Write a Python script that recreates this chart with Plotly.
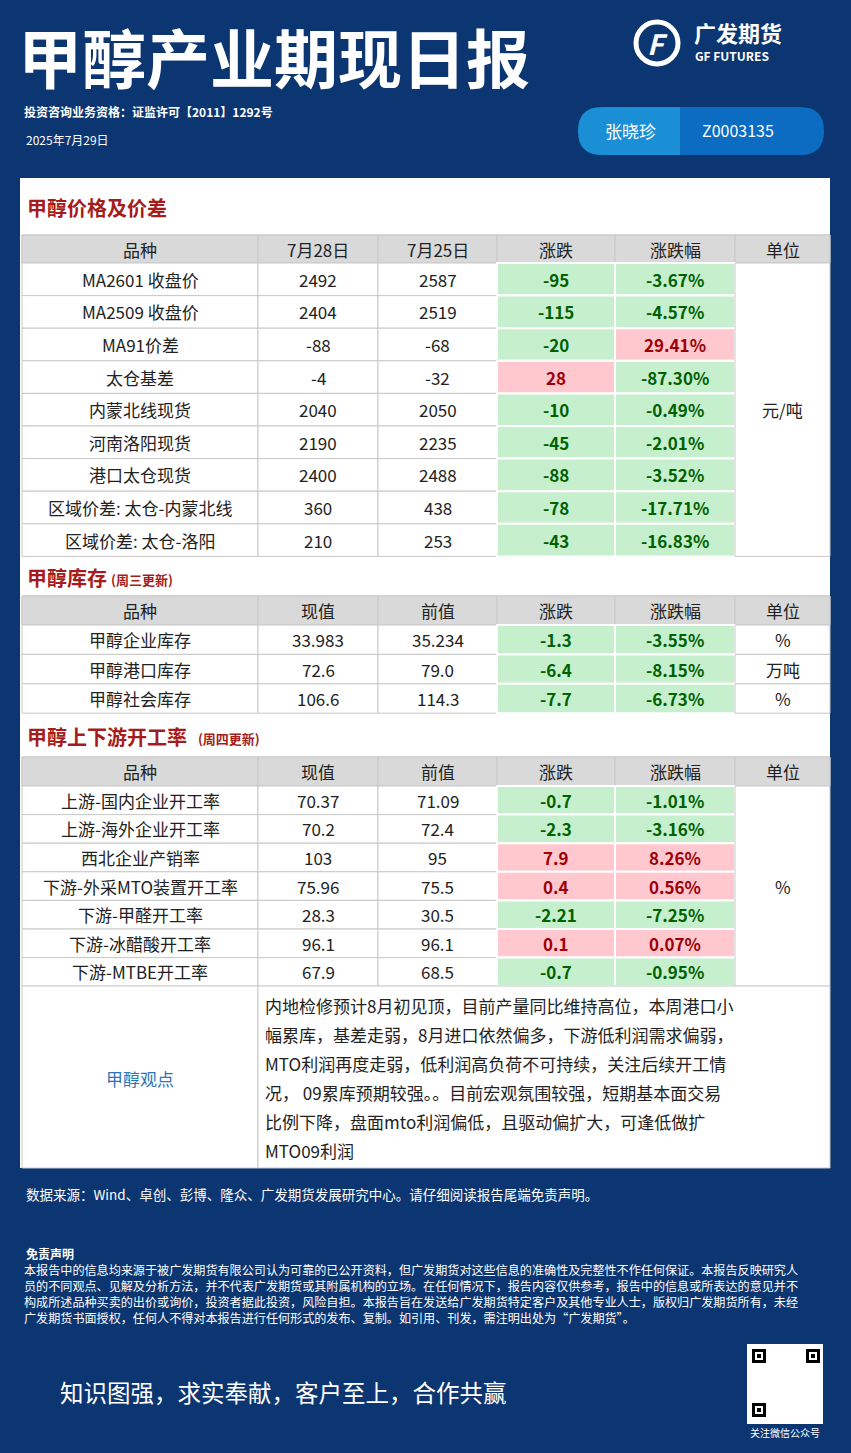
import plotly.graph_objects as go

W, H = 851, 1453
NAVY = "#0c3672"
FONT = "Noto Sans CJK SC"

title = "甲醇产业期现日报"
license_txt = "投资咨询业务资格：证监许可【2011】1292号"
report_date = "2025年7月29日"
analyst = "张晓珍"
analyst_id = "Z0003135"

# table 1: prices and spreads
t1_header = ["品种", "7月28日", "7月25日", "涨跌", "涨跌幅", "单位"]
t1_names = ["MA2601 收盘价", "MA2509 收盘价", "MA91价差", "太仓基差", "内蒙北线现货",
            "河南洛阳现货", "港口太仓现货", "区域价差: 太仓-内蒙北线", "区域价差: 太仓-洛阳"]
t1_cur = ["2492", "2404", "-88", "-4", "2040", "2190", "2400", "360", "210"]
t1_prev = ["2587", "2519", "-68", "-32", "2050", "2235", "2488", "438", "253"]
t1_chg = ["-95", "-115", "-20", "28", "-10", "-45", "-88", "-78", "-43"]
t1_pct = ["-3.67%", "-4.57%", "29.41%", "-87.30%", "-0.49%", "-2.01%", "-3.52%", "-17.71%", "-16.83%"]
t1_unit = "元/吨"

# table 2: inventories
t2_header = ["品种", "现值", "前值", "涨跌", "涨跌幅", "单位"]
t2_names = ["甲醇企业库存", "甲醇港口库存", "甲醇社会库存"]
t2_cur = ["33.983", "72.6", "106.6"]
t2_prev = ["35.234", "79.0", "114.3"]
t2_chg = ["-1.3", "-6.4", "-7.7"]
t2_pct = ["-3.55%", "-8.15%", "-6.73%"]
t2_unit = ["%", "万吨", "%"]

# table 3: operating rates
t3_names = ["上游-国内企业开工率", "上游-海外企业开工率", "西北企业产销率", "下游-外采MTO装置开工率",
            "下游-甲醛开工率", "下游-冰醋酸开工率", "下游-MTBE开工率"]
t3_cur = ["70.37", "70.2", "103", "75.96", "28.3", "96.1", "67.9"]
t3_prev = ["71.09", "72.4", "95", "75.5", "30.5", "96.1", "68.5"]
t3_chg = ["-0.7", "-2.3", "7.9", "0.4", "-2.21", "0.1", "-0.7"]
t3_pct = ["-1.01%", "-3.16%", "8.26%", "0.56%", "-7.25%", "0.07%", "-0.95%"]
t3_unit = "%"

view_label = "甲醇观点"
view_lines = [
    "内地检修预计8月初见顶，目前产量同比维持高位，本周港口小",
    "幅累库，基差走弱，8月进口依然偏多，下游低利润需求偏弱，",
    "MTO利润再度走弱，低利润高负荷不可持续，关注后续开工情",
    "况， 09累库预期较强。。目前宏观氛围较强，短期基本面交易",
    "比例下降，盘面mto利润偏低，且驱动偏扩大，可逢低做扩",
    "MTO09利润",
]
source_txt = "数据来源：Wind、卓创、彭博、隆众、广发期货发展研究中心。请仔细阅读报告尾端免责声明。"
disclaimer_lines = [
    "本报告中的信息均来源于被广发期货有限公司认为可靠的已公开资料，但广发期货对这些信息的准确性及完整性不作任何保证。本报告反映研究人",
    "员的不同观点、见解及分析方法，并不代表广发期货或其附属机构的立场。在任何情况下，报告内容仅供参考，报告中的信息或所表达的意见并不",
    "构成所述品种买卖的出价或询价，投资者据此投资，风险自担。本报告旨在发送给广发期货特定客户及其他专业人士，版权归广发期货所有，未经",
    "广发期货书面授权，任何人不得对本报告进行任何形式的发布、复制。如引用、刊发，需注明出处为\u201c广发期货\u201d。",
]
slogan = "知识图强，求实奉献，客户至上，合作共赢"

shapes, annots = [], []


def rect(x0, y0, x1, y1, fill, line=None, lw=1):
    shapes.append(dict(type="rect", x0=x0, y0=y0, x1=x1, y1=y1, xref="x", yref="y",
                       fillcolor=fill, line=dict(color=line or fill, width=lw if line else 0),
                       layer="below"))


def text(x, y, s, size, color, anchor="center", bold=False):
    annots.append(dict(x=x, y=y, xref="x", yref="y", text=f"<b>{s}</b>" if bold else s,
                       showarrow=False, xanchor=anchor, yanchor="middle",
                       font=dict(family=FONT, size=size, color=color)))


# background
rect(0, 0, W, H, NAVY)
text(16, 55, title, 64, "white", "left", True)
# logo
shapes.append(dict(type="circle", x0=636, y0=22, x1=678, y1=64, xref="x", yref="y",
                   line=dict(color="white", width=5)))
text(657, 43, "<i>F</i>", 28, "white", bold=True)
text(692, 32, "广发期货", 22, "white", "left", True)
text(693, 55, "GF FUTURES", 12, "white", "left", True)
text(22, 111, license_txt, 12, "white", "left", True)
text(24, 139, report_date, 12, "white", "left")
# analyst pill
shapes.append(dict(type="path", xref="x", yref="y", fillcolor="#1b8fd6", line=dict(width=0),
                   path="M 602 107 L 680 107 L 680 155 L 602 155 Q 578 155 578 131 Q 578 107 602 107 Z"))
shapes.append(dict(type="path", xref="x", yref="y", fillcolor="#0b6cc2", line=dict(width=0),
                   path="M 680 107 L 800 107 Q 824 107 824 131 Q 824 155 800 155 L 680 155 Z"))
text(630, 130, analyst, 17, "white")
text(738, 130, analyst_id, 16, "white")

# white panel
rect(20, 178, 830, 1168, "white")

cols = [22, 258, 378, 497, 615, 735, 830]
centers = [(cols[i] + cols[i + 1]) / 2 for i in range(6)]
GRID = "#c8c8c8"
HEAD = "#d9d9d9"
GREEN_F, GREEN_T = "#c6efce", "#006100"
RED_F, RED_T = "#ffc7ce", "#9c0006"


def section(y, label, note):
    text(25, y, label, 20, "#a51c1c", "left", True)
    if note:
        text(25 + 21 * len(label), y + 2, note, 13, "#a51c1c", "left", True)


def table(top, row_h, header, names, cur, prev, chg, pct, unit, head_h):
    rect(cols[0], top, cols[-1], top + head_h, HEAD, GRID)
    for i, h in enumerate(header):
        rect(cols[i], top, cols[i + 1], top + head_h, HEAD, GRID)
        text(centers[i], top + head_h / 2, h, 17, "#222")
    y0 = top + head_h
    for r in range(len(names)):
        a, b = y0 + r * row_h, y0 + (r + 1) * row_h
        m = (a + b) / 2
        for i in range(3):
            rect(cols[i], a, cols[i + 1], b, "white", GRID)
        text(centers[0], m, names[r], 17, "#222")
        text(centers[1], m, cur[r], 17, "#222")
        text(centers[2], m, prev[r], 17, "#222")
        for i, v in ((3, chg[r]), (4, pct[r])):
            up = float(v.rstrip("%")) > 0
            rect(cols[i], a, cols[i + 1], b, RED_F if up else GREEN_F, "white", 2)
            text(centers[i], m, v, 17, RED_T if up else GREEN_T, bold=True)
        if isinstance(unit, list):
            rect(cols[5], a, cols[6], b, "white", GRID)
            text(centers[5], m, unit[r], 17, "#222")
    if not isinstance(unit, list):
        yb = y0 + len(names) * row_h
        rect(cols[5], y0, cols[6], yb, "white", GRID)
        text(centers[5], (y0 + yb) / 2, unit, 17, "#222")


section(207, "甲醇价格及价差", None)
table(235, 32.6, t1_header, t1_names, t1_cur, t1_prev, t1_chg, t1_pct, t1_unit, 28)
section(577, "甲醇库存", "(周三更新)")
table(596, 29.4, t2_header, t2_names, t2_cur, t2_prev, t2_chg, t2_pct, t2_unit, 29)
section(736, "甲醇上下游开工率", " (周四更新)")
table(757, 28.6, t2_header, t3_names, t3_cur, t3_prev, t3_chg, t3_pct, t3_unit, 29)

# view block
rect(cols[0], 986, cols[1], 1168, "white", GRID)
rect(cols[1], 986, cols[-1], 1168, "white", GRID)
text(140, 1078, view_label, 17, "#2e75b6")
for i, line in enumerate(view_lines):
    text(263, 1005 + i * 29, line, 17, "#222", "left")

text(24, 1194, source_txt, 13.5, "white", "left")
text(24, 1253, "免责声明", 12, "white", "left", True)
for i, line in enumerate(disclaimer_lines):
    text(22, 1269 + i * 16, line, 12.1, "white", "left")
text(58, 1392, slogan, 23.5, "white", "left")

# qr placeholder
rect(747, 1344, 823, 1424, "white")
for qx, qy in ((752, 1349), (806, 1349), (752, 1403)):
    rect(qx, qy, qx + 14, qy + 14, "black")
    rect(qx + 3, qy + 3, qx + 11, qy + 11, "white")
    rect(qx + 5, qy + 5, qx + 9, qy + 9, "black")
text(785, 1432, "关注微信公众号", 10, "white")

fig = go.Figure()
fig.update_layout(
    width=W, height=H, margin=dict(l=0, r=0, t=0, b=0),
    paper_bgcolor=NAVY, plot_bgcolor=NAVY,
    xaxis=dict(range=[0, W], visible=False, fixedrange=True),
    yaxis=dict(range=[H, 0], visible=False, fixedrange=True),
    shapes=shapes, annotations=annots, showlegend=False,
)
fig.write_html("out.html", config={"displayModeBar": False},
               post_script="document.body.style.margin='0';document.body.style.overflow='hidden';")
